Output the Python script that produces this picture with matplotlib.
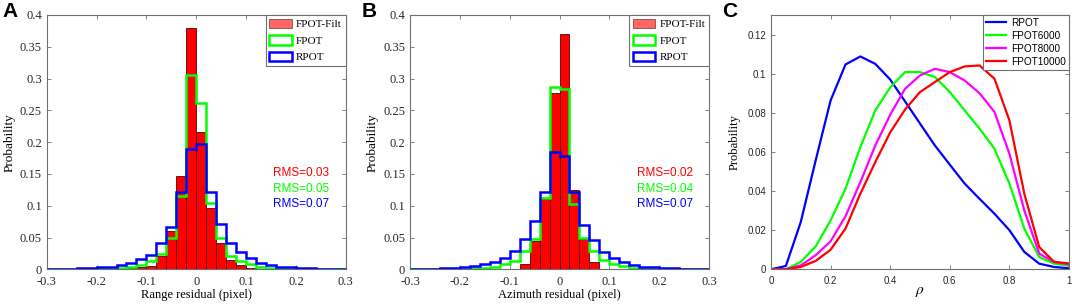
import numpy as np
import matplotlib
matplotlib.use('Agg')
import matplotlib.pyplot as plt
from matplotlib.patches import Patch
from matplotlib.ticker import FormatStrFormatter

plt.rcParams['mathtext.fontset'] = 'stix'

# histogram bins: -0.3 .. 0.3, width 0.02
edges = np.round(np.arange(-0.3, 0.3001, 0.02), 3)

# panel A (range residual)
a_filt = [0, 0, 0.0005, 0.0005, 0.001, 0.001, 0.001, 0.0015, 0.002, 0.003,
          0.005, 0.021, 0.060, 0.147, 0.379, 0.2155, 0.097, 0.042, 0.0147, 0.006,
          0.0025, 0.001, 0.0005, 0.0005, 0, 0, 0, 0, 0, 0]
a_fpot = [0.0005, 0.0005, 0.0005, 0.001, 0.001, 0.0015, 0.002, 0.0025, 0.004, 0.007,
          0.013, 0.024, 0.050, 0.115, 0.305, 0.261, 0.104, 0.050, 0.0215, 0.013,
          0.008, 0.004, 0.0025, 0.0015, 0.001, 0.001, 0.0005, 0.0005, 0.0005, 0.0005]
a_rpot = [0.0005, 0.001, 0.001, 0.0015, 0.002, 0.003, 0.004, 0.007, 0.0105, 0.016,
          0.0225, 0.041, 0.067, 0.121, 0.189, 0.197, 0.121, 0.072, 0.042, 0.027,
          0.018, 0.0105, 0.006, 0.004, 0.003, 0.002, 0.0015, 0.001, 0.001, 0.0005]
a_rms = ['RMS=0.03', 'RMS=0.05', 'RMS=0.07']

# panel B (azimuth residual)
b_filt = [0, 0, 0, 0, 0, 0, 0, 0, 0, 0,
          0.0005, 0.008, 0.045, 0.110, 0.278, 0.370, 0.125, 0.047, 0.011, 0.0005,
          0, 0, 0, 0, 0, 0, 0, 0, 0, 0]
b_fpot = [0.0005, 0.0005, 0.0005, 0.0005, 0.001, 0.001, 0.0015, 0.0025, 0.004, 0.008,
          0.0135, 0.029, 0.048, 0.112, 0.286, 0.284, 0.103, 0.050, 0.029, 0.015,
          0.008, 0.005, 0.0025, 0.0015, 0.001, 0.001, 0.0005, 0.0005, 0.0005, 0.0005]
b_rpot = [0.0005, 0.001, 0.001, 0.0015, 0.002, 0.0035, 0.005, 0.008, 0.012, 0.018,
          0.029, 0.048, 0.076, 0.122, 0.185, 0.179, 0.121, 0.069, 0.046, 0.027,
          0.018, 0.011, 0.006, 0.004, 0.003, 0.002, 0.0015, 0.001, 0.001, 0.0005]
b_rms = ['RMS=0.02', 'RMS=0.04', 'RMS=0.07']

# panel C (rho distribution)
rho = np.round(np.arange(0, 1.0001, 0.05), 2)
c_rpot = [0, 0.0017, 0.0242, 0.0557, 0.0863, 0.1047, 0.1088, 0.105, 0.097, 0.0858,
          0.0745, 0.0633, 0.0535, 0.0438, 0.036, 0.0284, 0.02, 0.0089, 0.0029, 0.0012, 0.0005]
c_f6000 = [0, 0, 0.0038, 0.0117, 0.025, 0.0412, 0.0625, 0.0812, 0.093, 0.1008,
           0.1008, 0.0983, 0.0906, 0.0812, 0.0719, 0.0616, 0.0438, 0.0208, 0.0063, 0.0029, 0.0018]
c_f8000 = [0, 0, 0.002, 0.0072, 0.0143, 0.0271, 0.0446, 0.0633, 0.079, 0.0923,
           0.0991, 0.1025, 0.1008, 0.0965, 0.090, 0.0804, 0.0591, 0.0301, 0.008, 0.0038, 0.0025]
c_f10000 = [0, 0, 0.0012, 0.0043, 0.010, 0.0208, 0.0387, 0.0548, 0.070, 0.0817,
            0.0906, 0.0957, 0.1008, 0.1037, 0.1042, 0.0974, 0.0761, 0.0387, 0.0114, 0.0038, 0.003]

RED, GREEN, BLUE, MAG = '#ff0000', '#00ff00', '#0000ff', '#ff00ff'
AXC = '#707070'
SERIF = ['Liberation Serif', 'DejaVu Serif']
SANS = ['Liberation Sans', 'DejaVu Sans']


def style_axes(ax, family, size):
	for s in ax.spines.values():
		s.set_color(AXC)
		s.set_linewidth(0.8)
	ax.tick_params(direction='in', length=3, width=0.6, color=AXC, top=True, right=True,
		labelsize=size)
	ax.tick_params(axis='x', pad=4.5)
	ax.tick_params(axis='y', pad=3.5)
	for lab in ax.get_xticklabels() + ax.get_yticklabels():
		lab.set_family(family)
		lab.set_color('#262626')


def hist_panel(ax, filt, fpot, rpot, rms, xlabel):
	centers = (edges[:-1] + edges[1:]) / 2
	ax.bar(centers, filt, width=0.02, color=RED, edgecolor='#5a0000', linewidth=0.6, zorder=2)
	ax.stairs(fpot, edges, color=GREEN, linewidth=1.8, zorder=3)
	ax.stairs(rpot, edges, color=BLUE, linewidth=1.8, zorder=4)
	ax.set_xlim(-0.3, 0.3)
	ax.set_ylim(0, 0.4)
	ax.set_xticks(np.round(np.arange(-0.3, 0.301, 0.1), 1))
	ax.set_yticks(np.round(np.arange(0, 0.401, 0.05), 2))
	ax.xaxis.set_major_formatter(FormatStrFormatter('%g'))
	ax.yaxis.set_major_formatter(FormatStrFormatter('%g'))
	ax.set_xlabel(xlabel, family=SERIF, fontsize=9, labelpad=1)
	ax.set_ylabel('Probability', family=SERIF, fontsize=9.5, labelpad=3)
	style_axes(ax, SERIF, 9)
	handles = [Patch(facecolor=RED, alpha=0.6, edgecolor='#400000', linewidth=0.6),
		Patch(facecolor='none', edgecolor=GREEN, linewidth=1.8),
		Patch(facecolor='none', edgecolor=BLUE, linewidth=1.8)]
	leg = ax.legend(handles, ['FPOT-Filt', 'FPOT', 'RPOT'], loc='upper right',
		prop={'family': SERIF, 'size': 8}, fancybox=False, framealpha=1,
		edgecolor=AXC, borderaxespad=0.0, handlelength=2.0, handleheight=0.9,
		labelspacing=0.55, borderpad=0.35, handletextpad=0.4)
	leg.get_frame().set_linewidth(0.8)
	for txt, col, y in zip(rms, [RED, GREEN, BLUE], [0.151, 0.127, 0.103]):
		ax.text(0.155, y, txt, color=col, family=SANS, fontsize=8.5, ha='left', va='center')


fig = plt.figure(figsize=(10.72, 3.04), dpi=100)
axA = fig.add_axes([0.0436, 0.1141, 0.2789, 0.8366])
axB = fig.add_axes([0.3825, 0.1141, 0.2789, 0.8366])
axC = fig.add_axes([0.7192, 0.1141, 0.2780, 0.8366])

hist_panel(axA, a_filt, a_fpot, a_rpot, a_rms, 'Range residual (pixel)')
hist_panel(axB, b_filt, b_fpot, b_rpot, b_rms, 'Azimuth residual (pixel)')

for vals, col, name in zip([c_rpot, c_f6000, c_f8000, c_f10000], [BLUE, GREEN, MAG, RED],
		['RPOT', 'FPOT6000', 'FPOT8000', 'FPOT10000']):
	axC.plot(rho, vals, color=col, linewidth=1.6, label=name)
axC.set_xlim(0, 1)
axC.set_ylim(0, 0.13)
axC.set_xticks(np.round(np.arange(0, 1.001, 0.2), 1))
axC.set_yticks(np.round(np.arange(0, 0.121, 0.02), 2))
axC.xaxis.set_major_formatter(FormatStrFormatter('%g'))
axC.yaxis.set_major_formatter(FormatStrFormatter('%g'))
axC.set_xlabel(r'$\rho$', fontsize=11, labelpad=-1)
axC.set_ylabel('Probability', family=SERIF, fontsize=9, labelpad=5)
style_axes(axC, SANS, 7)
legC = axC.legend(loc='upper right', prop={'family': SANS, 'size': 7.2}, fancybox=False,
	framealpha=1, edgecolor=AXC, borderaxespad=0.0, handlelength=2.0,
	labelspacing=0.3, borderpad=0.3, handletextpad=0.5)
legC.get_frame().set_linewidth(0.8)

for x, letter in zip([0.002, 0.3375, 0.6735], ['A', 'B', 'C']):
	fig.text(x, 0.995, letter, family=SANS, fontsize=15, weight='bold', va='top', ha='left')

fig.savefig('out.png', dpi=100)
plt.close()
